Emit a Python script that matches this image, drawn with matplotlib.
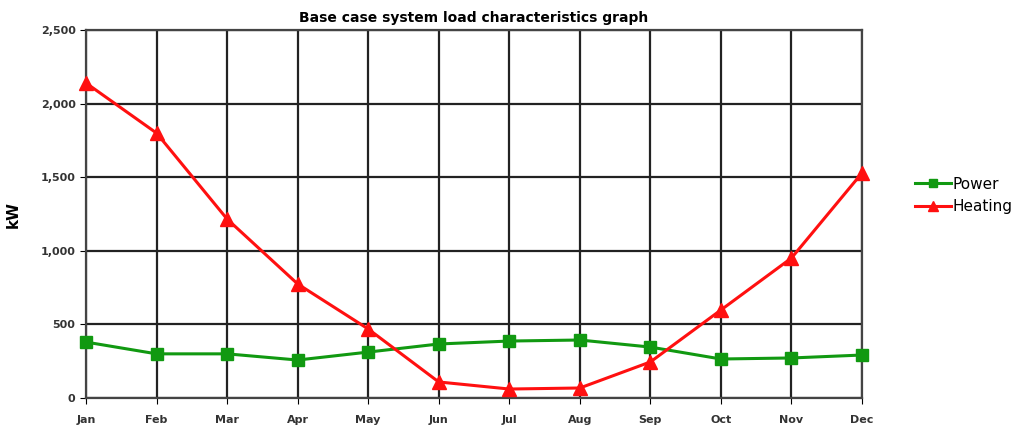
import matplotlib.pyplot as plt
from matplotlib.ticker import FuncFormatter

months = ['Jan', 'Feb', 'Mar', 'Apr', 'May', 'Jun', 'Jul', 'Aug', 'Sep', 'Oct', 'Nov', 'Dec']
power = [380, 300, 300, 258, 312, 367, 387, 394, 346, 265, 272, 292]
heating = [2140, 1800, 1216, 775, 469, 109, 61, 68, 245, 598, 951, 1529]

fig = plt.figure(figsize=(10.21, 4.3), dpi=100)
ax = fig.add_axes([0.0842, 0.0744, 0.7601, 0.8558])

x = range(len(months))
ax.plot(x, power, color='#119911', marker='s', markersize=9, linewidth=2.2,
        label='Power', zorder=3, clip_on=False)
ax.plot(x, heating, color='#ff1010', marker='^', markersize=10, linewidth=2.2,
        label='Heating', zorder=3, clip_on=False)

ax.set_xlim(0, len(months) - 1)
ax.set_ylim(0, 2500)
ax.set_xticks(list(x))
ax.set_xticklabels(months, fontsize=8, fontweight='bold', color='#333333')
ax.set_yticks([0, 500, 1000, 1500, 2000, 2500])
ax.yaxis.set_major_formatter(FuncFormatter(lambda v, p: f'{int(v):,}'))
ax.tick_params(axis='y', labelsize=8, labelcolor='#333333', length=4)
ax.tick_params(axis='x', length=4, pad=8)
for lbl in ax.get_yticklabels():
    lbl.set_fontweight('bold')

ax.grid(True, color='#222222', linewidth=1.6)
ax.set_axisbelow(True)
for s in ax.spines.values():
    s.set_color('#444444')
    s.set_linewidth(1.6)

ax.set_ylabel('kW', fontsize=11, fontweight='bold', labelpad=14)
ax.set_title('Base case system load characteristics graph', fontsize=10,
             fontweight='bold', pad=6)

ax.legend(loc='center left', bbox_to_anchor=(1.068, 0.55), frameon=False,
          fontsize=11, handlelength=2.4, handletextpad=0.1, labelspacing=0.5,
          markerscale=0.7, borderpad=0, borderaxespad=0)

fig.savefig('out.png', dpi=100)
